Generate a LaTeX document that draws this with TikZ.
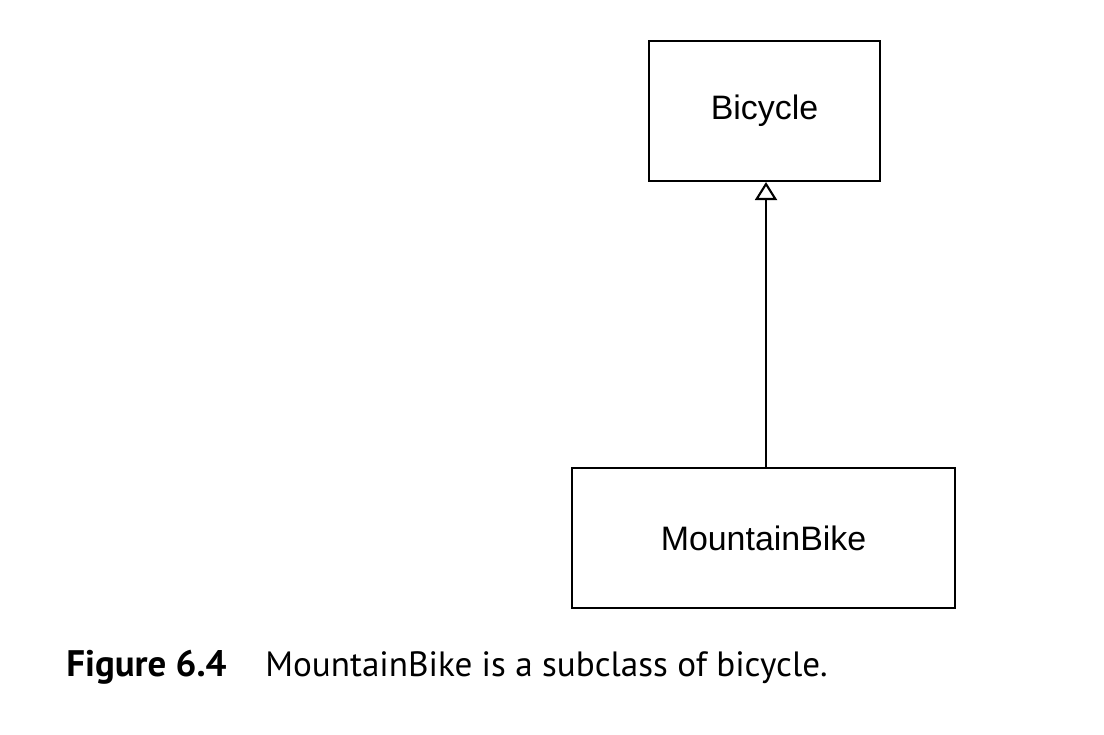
\documentclass[tikz,border=0pt]{standalone}
\usepackage{fontspec}
\newfontfamily\boxfont{Liberation Sans}
\newfontfamily\capfont{PT Sans}
\usetikzlibrary{arrows.meta}
\tikzset{classbox/.style={draw,line width=1.2pt,minimum height=2.8cm,inner sep=0pt,font=\boxfont\fontsize{19.3}{22}\selectfont}}
\begin{document}
\begin{tikzpicture}[x=0.02cm,y=-0.02cm]
\useasboundingbox(0,0)rectangle(1104,734);
\node[classbox,minimum width=4.62cm](bike)at(764.5,111){Bicycle};
\node[classbox,minimum width=7.66cm](mtb)at(763.5,538){MountainBike};
\draw[line width=1.2pt,-{Triangle[open,length=0.36cm,width=0.44cm]}](mtb.north-|766,0)--(bike.south-|766,0);
\node[anchor=base west,inner sep=0pt,font=\capfont\bfseries\fontsize{21}{24}\selectfont](figno)at(66,676){Figure 6.4};
\node[anchor=base west,inner sep=0pt,font=\capfont\fontsize{20}{24}\selectfont](figcap)at(265,676){MountainBike is a subclass of bicycle.};
\end{tikzpicture}
\end{document}
